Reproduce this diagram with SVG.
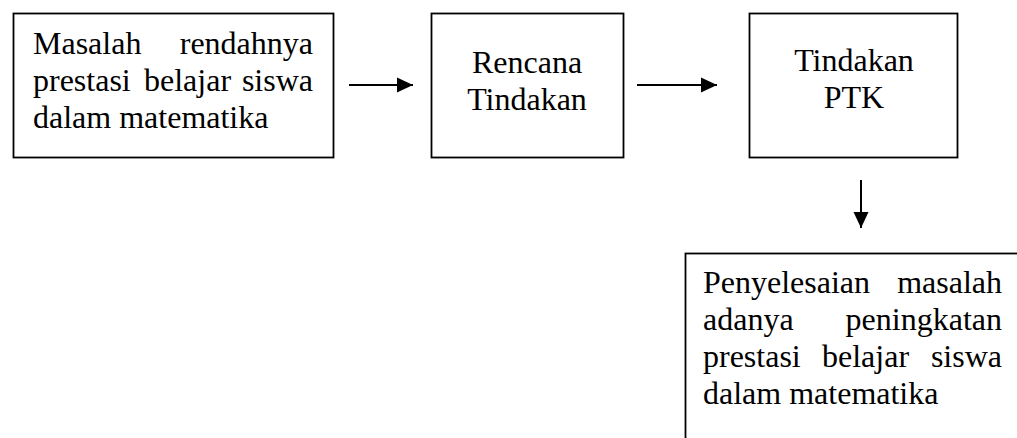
<svg xmlns="http://www.w3.org/2000/svg" width="1017" height="438" viewBox="0 0 1017 438">
<style>
.box{fill:#fff;stroke:#000;stroke-width:1.8}
.t{font-family:"Liberation Serif","Times New Roman",serif;font-size:32px;fill:#000}
.m{text-anchor:middle}
.e{text-anchor:end}
.c{stroke:#000;stroke-width:2;fill:none}
</style>
<defs>
<marker id="ah" markerWidth="16" markerHeight="16" viewBox="0 0 16 16" refX="16" refY="8" orient="auto" markerUnits="userSpaceOnUse">
<path d="M0,0.5 L16,8 L0,15.5 Z" fill="#000"/>
</marker>
</defs>
<rect width="1017" height="438" fill="#fff"/>
<g id="n1">
<rect class="box" x="13.5" y="13.5" width="320" height="144"/>
<text class="t" x="33" y="54">Masalah</text>
<text class="t e" x="313" y="54">rendahnya</text>
<text class="t" x="33" y="91">prestasi</text>
<text class="t" x="144" y="91">belajar</text>
<text class="t e" x="313" y="91">siswa</text>
<text class="t" x="33" y="128">dalam matematika</text>
</g>
<g id="n2">
<rect class="box" x="431.5" y="13.5" width="192" height="144"/>
<text class="t m" x="527" y="73">Rencana</text>
<text class="t m" x="527" y="110">Tindakan</text>
</g>
<g id="n3">
<rect class="box" x="749.5" y="13.5" width="208" height="144"/>
<text class="t m" x="854" y="71">Tindakan</text>
<text class="t m" x="854" y="108">PTK</text>
</g>
<g id="n4">
<rect class="box" x="685.5" y="253.5" width="360" height="220"/>
<text class="t" x="703" y="293">Penyelesaian</text>
<text class="t e" x="1002" y="293">masalah</text>
<text class="t" x="703" y="330">adanya</text>
<text class="t e" x="1002" y="330">peningkatan</text>
<text class="t" x="703" y="367">prestasi</text>
<text class="t" x="822" y="367">belajar</text>
<text class="t e" x="1002" y="367">siswa</text>
<text class="t" x="703" y="404">dalam matematika</text>
</g>
<g id="connectors">
<line class="c" x1="349" y1="85" x2="413" y2="85" marker-end="url(#ah)"/>
<line class="c" x1="637" y1="85" x2="717" y2="85" marker-end="url(#ah)"/>
<line class="c" x1="861" y1="180" x2="861" y2="228" marker-end="url(#ah)"/>
</g>
</svg>
